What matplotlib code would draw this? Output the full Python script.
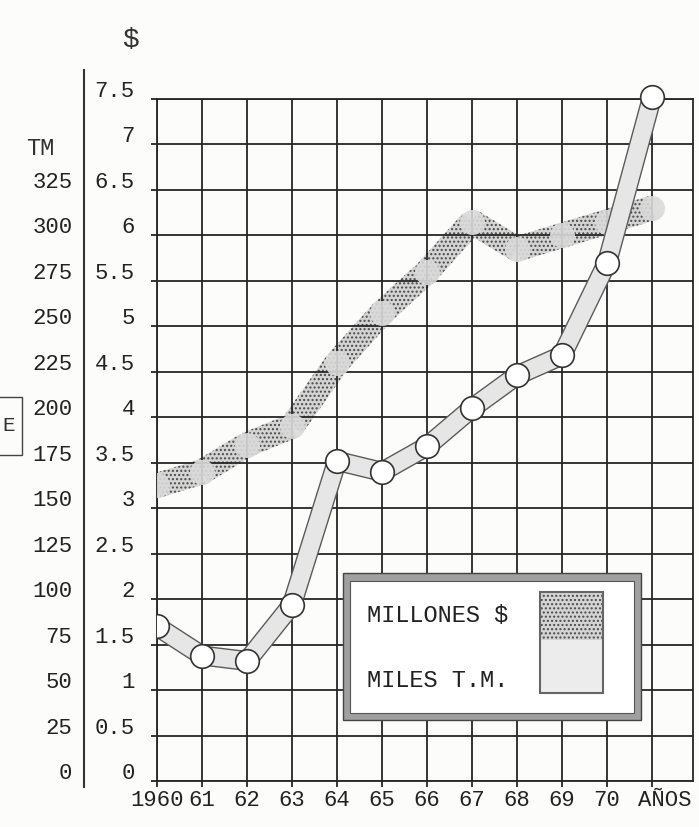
import numpy as np
import matplotlib
matplotlib.use('Agg')
import matplotlib.pyplot as plt
import matplotlib.transforms as mtrans
from matplotlib.patches import Rectangle, Polygon
from matplotlib.lines import Line2D

# values
years = [1960, 1961, 1962, 1963, 1964, 1965, 1966, 1967, 1968, 1969, 1970, 1971]
millones_usd = [3.25, 3.4, 3.7, 3.9, 4.6, 5.15, 5.6, 6.15, 5.85, 6.0, 6.15, 6.3]
miles_tm = [85, 69, 66, 97, 176, 170, 184, 205, 223, 234, 285, 376]

x_ticks = [1960, 1961, 1962, 1963, 1964, 1965, 1966, 1967, 1968, 1969, 1970, 1971]
x_labels = ['1960', '61', '62', '63', '64', '65', '66', '67', '68', '69', '70', 'AÑOS']
usd_ticks = [0, 0.5, 1, 1.5, 2, 2.5, 3, 3.5, 4, 4.5, 5, 5.5, 6, 6.5, 7, 7.5]
usd_labels = ['0', '0.5', '1', '1.5', '2', '2.5', '3', '3.5', '4', '4.5',
              '5', '5.5', '6', '6.5', '7', '7.5']
tm_ticks = [0, 25, 50, 75, 100, 125, 150, 175, 200, 225, 250, 275, 300, 325]
tm_labels = ['0', '25', '50', '75', '100', '125', '150', '175', '200', '225',
             '250', '275', '300', '325']

plt.rcParams['font.family'] = ['Liberation Mono', 'DejaVu Sans']
plt.rcParams['hatch.linewidth'] = 1.0
ink = '#262626'
paper = '#fcfcfb'
dots = '#4a4a4a'

fig = plt.figure(figsize=(6.99, 8.27), dpi=100)
fig.patch.set_facecolor(paper)

ax = fig.add_axes([0.2246, 0.0556, 0.7668, 0.8247])
ax.set_facecolor(paper)
ax.set_xlim(1960, 1971.91)
ax.set_ylim(0, 7.5)
ax.set_xticks(x_ticks)
ax.set_xticklabels(x_labels)
ax.set_yticks(usd_ticks)
ax.set_yticklabels(usd_labels)
ax.grid(True, color=ink, lw=1.3)
for s in ax.spines.values():
    s.set_color(ink)
    s.set_linewidth(1.3)
ax.tick_params(axis='both', length=4.5, width=1.3, color=ink,
               labelsize=16, labelcolor='#222')
ax.tick_params(axis='y', pad=11.5)
ax.tick_params(axis='x', pad=2)

# second scale (toneladas) on the far left
ax2 = ax.twinx()
ax2.set_ylim(0, 375)
ax2.set_yticks(tm_ticks)
ax2.set_yticklabels(tm_labels)
ax2.yaxis.tick_left()
ax2.tick_params(axis='y', length=0, pad=61, labelsize=16, labelcolor='#222')
for s in ax2.spines.values():
    s.set_visible(False)

clip = Rectangle((0, -0.05), 1.0, 1.15, transform=ax.transAxes)

# millones $ band: dotted strip built segment by segment in pixel space,
# kept under the grid so the lines show through
pts = ax.transData.transform(np.column_stack([years, millones_usd]))
half = 12.5
for p0, p1 in zip(pts[:-1], pts[1:]):
    d = p1 - p0
    n = np.array([-d[1], d[0]]) / np.hypot(*d) * half
    quad = Polygon([p0 + n, p1 + n, p1 - n, p0 - n], closed=True,
                   transform=mtrans.IdentityTransform(),
                   facecolor='#d4d4d4', edgecolor=dots, hatch='....',
                   lw=0, zorder=1)
    ax.add_patch(quad)
    quad.set_clip_box(ax.bbox)
arts = ax.plot(years, millones_usd, 'o', ms=18, mfc='#dadada', mec='none',
               alpha=0.9, zorder=4)

# miles T.M. band (light, outlined)
arts += ax2.plot(years, miles_tm, color='#5a5a5a', lw=14.5,
                 solid_joinstyle='round', solid_capstyle='butt', zorder=3)
arts += ax2.plot(years, miles_tm, color='#e6e6e6', lw=12.5,
                 solid_joinstyle='round', solid_capstyle='butt', zorder=3)
arts += ax2.plot(years, miles_tm, 'o', ms=17, mfc='white', mec='#333', mew=1.2, zorder=4)
for a in arts:
    a.set_clip_path(clip)

# labels sit a little above their grid lines
up = mtrans.ScaledTranslation(0, 0.1, fig.dpi_scale_trans)
for lbl in ax.get_yticklabels() + ax2.get_yticklabels():
    lbl.set_transform(lbl.get_transform() + up)
right = mtrans.ScaledTranslation(0.13, 0, fig.dpi_scale_trans)
lbl = ax.get_xticklabels()[-1]
lbl.set_transform(lbl.get_transform() + right)

# legend box
tr = ax2.transAxes
ax2.add_patch(Rectangle((0.347, 0.089), 0.556, 0.216, transform=tr,
                        facecolor='#a0a0a0', edgecolor='#444', lw=1, zorder=6))
ax2.add_patch(Rectangle((0.360, 0.100), 0.530, 0.194, transform=tr,
                        facecolor='white', edgecolor='#555', lw=0.8, zorder=6))
ax2.add_patch(Rectangle((0.715, 0.207), 0.117, 0.070, transform=tr,
                        facecolor='#d4d4d4', edgecolor=dots, lw=0, hatch='....', zorder=7))
ax2.add_patch(Rectangle((0.715, 0.129), 0.117, 0.078, transform=tr,
                        facecolor='#ececec', edgecolor='none', zorder=7))
ax2.add_patch(Rectangle((0.715, 0.129), 0.117, 0.148, transform=tr,
                        facecolor='none', edgecolor='#666', lw=1.5, zorder=7))
ax2.text(0.392, 0.243, 'MILLONES $', transform=tr, fontsize=17, color='#222',
         va='center', ha='left', zorder=8)
ax2.text(0.392, 0.148, 'MILES T.M.', transform=tr, fontsize=17, color='#222',
         va='center', ha='left', zorder=8)

# separator between the two scales, unit marks
fig.add_artist(Line2D([0.120, 0.120], [0.048, 0.915], color='#333', lw=1.5))
fig.text(0.057, 0.821, 'TM', fontsize=17, color='#333', ha='center', va='center')
fig.text(0.186, 0.952, '$', fontsize=20, color='#333', ha='center', va='center')
fig.add_artist(Rectangle((-0.02, 0.450), 0.051, 0.070, transform=fig.transFigure,
                         facecolor='none', edgecolor='#444', lw=1))
fig.text(0.012, 0.485, 'E', fontsize=15, color='#333', ha='center', va='center')

fig.savefig('out.png', dpi=100, facecolor=paper)
